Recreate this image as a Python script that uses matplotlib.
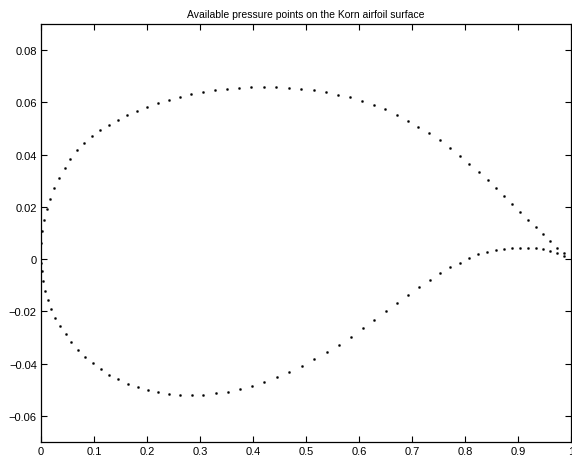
import matplotlib
matplotlib.use("Agg")
import matplotlib.pyplot as plt
from matplotlib.ticker import FuncFormatter

# Korn airfoil pressure tap locations (chord fraction, thickness fraction)
upper_x = [0.0006, 0.0019, 0.0057, 0.0113, 0.0176, 0.0252, 0.0340, 0.0447, 0.0553,
           0.0679, 0.0818, 0.0956, 0.1113, 0.1277, 0.1447, 0.1629, 0.1811, 0.2006,
           0.2208, 0.2415, 0.2623, 0.2836, 0.3057, 0.3283, 0.3509, 0.3736, 0.3968,
           0.4202, 0.4434, 0.4673, 0.4912, 0.5145, 0.5377, 0.5610, 0.5836, 0.6057,
           0.6277, 0.6496, 0.6711, 0.6919, 0.7119, 0.7326, 0.7523, 0.7711, 0.7900,
           0.8081, 0.8258, 0.8428, 0.8585, 0.8742, 0.8894, 0.9045, 0.9189, 0.9334,
           0.9472, 0.9604, 0.9742, 0.9868]
upper_y = [0.0062, 0.0106, 0.0150, 0.0190, 0.0231, 0.0271, 0.0311, 0.0347, 0.0383,
           0.0416, 0.0446, 0.0470, 0.0493, 0.0514, 0.0533, 0.0550, 0.0567, 0.0583,
           0.0596, 0.0609, 0.0621, 0.0631, 0.0638, 0.0646, 0.0651, 0.0655, 0.0659,
           0.0659, 0.0659, 0.0655, 0.0653, 0.0646, 0.0638, 0.0630, 0.0619, 0.0605,
           0.0590, 0.0573, 0.0553, 0.0530, 0.0507, 0.0481, 0.0455, 0.0425, 0.0396,
           0.0365, 0.0335, 0.0304, 0.0272, 0.0240, 0.0210, 0.0180, 0.0151, 0.0123,
           0.0095, 0.0069, 0.0044, 0.0022]

lower_x = [0.0006, 0.0013, 0.0032, 0.0075, 0.0126, 0.0189, 0.0270, 0.0358, 0.0466,
           0.0572, 0.0698, 0.0830, 0.0975, 0.1126, 0.1289, 0.1453, 0.1636, 0.1825,
           0.2013, 0.2214, 0.2421, 0.2629, 0.2849, 0.3063, 0.3296, 0.3528, 0.3755,
           0.3987, 0.4213, 0.4453, 0.4685, 0.4918, 0.5157, 0.5390, 0.5617, 0.5843,
           0.6070, 0.6283, 0.6504, 0.6717, 0.6925, 0.7132, 0.7334, 0.7528, 0.7717,
           0.7900, 0.8081, 0.8251, 0.8421, 0.8585, 0.8736, 0.8887, 0.9038, 0.9189,
           0.9334, 0.9466, 0.9604, 0.9742, 0.9868]
lower_y = [-0.0016, -0.0046, -0.0083, -0.0121, -0.0157, -0.0191, -0.0224, -0.0256,
           -0.0287, -0.0317, -0.0346, -0.0374, -0.0398, -0.0421, -0.0442, -0.0460,
           -0.0477, -0.0490, -0.0500, -0.0509, -0.0516, -0.0519, -0.0519, -0.0519,
           -0.0514, -0.0508, -0.0498, -0.0485, -0.0470, -0.0452, -0.0431, -0.0410,
           -0.0384, -0.0356, -0.0327, -0.0297, -0.0265, -0.0233, -0.0200, -0.0168,
           -0.0137, -0.0107, -0.0079, -0.0053, -0.0032, -0.0013, 0.0004, 0.0018,
           0.0027, 0.0035, 0.0040, 0.0042, 0.0044, 0.0044, 0.0041, 0.0037, 0.0031,
           0.0023, 0.0013]

x_ticks = [0, 0.1, 0.2, 0.3, 0.4, 0.5, 0.6, 0.7, 0.8, 0.9, 1]
y_ticks = [-0.06, -0.04, -0.02, 0, 0.02, 0.04, 0.06, 0.08]

plt.rcParams['font.family'] = ['Liberation Sans', 'DejaVu Sans']

fig = plt.figure(figsize=(5.72, 4.64), dpi=100)
ax = fig.add_axes([0.0717, 0.0453, 0.9266, 0.9008])

ax.plot(upper_x + lower_x, upper_y + lower_y, linestyle='none', marker='o',
        markersize=1.6, markerfacecolor='black', markeredgecolor='black',
        markeredgewidth=0.2)

ax.set_xlim(0, 1)
ax.set_ylim(-0.07, 0.09)
ax.set_xticks(x_ticks)
ax.set_yticks(y_ticks)


def fmt(v, _pos):
    s = f"{v:.2f}".rstrip('0').rstrip('.')
    if s in ("-0", "0"):
        return "0"
    return s.replace('-', '\u2212')


ax.xaxis.set_major_formatter(FuncFormatter(fmt))
ax.yaxis.set_major_formatter(FuncFormatter(fmt))

ax.tick_params(direction='in', length=4, width=0.8, labelsize=8,
               top=True, right=True, pad=3, colors='black')
for sp in ax.spines.values():
    sp.set_linewidth(0.9)

ax.set_title("Available pressure points on the Korn airfoil surface",
             fontsize=7.5, pad=5)

fig.savefig("out.png", dpi=100)
